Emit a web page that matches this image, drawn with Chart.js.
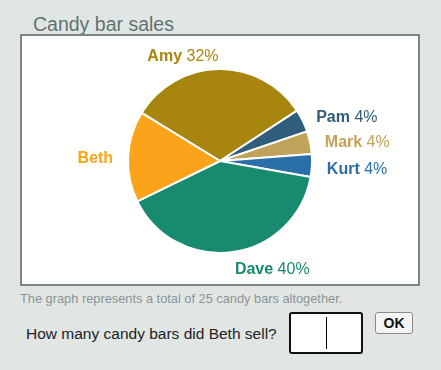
<!DOCTYPE html>
<html lang="en">
<head>
    <meta charset="UTF-8">
    <title>Candy bar sales</title>
    <script src="https://cdn.jsdelivr.net/npm/chart.js"></script>
    <style>
        body {
            margin: 0;
            width: 441px;
            height: 370px;
            background-color: #e1e6e4;
            font-family: 'Liberation Sans', Arial, sans-serif;
            position: relative;
            overflow: hidden;
        }

        #title {
            position: absolute;
            left: 33px;
            top: 13px;
            font-size: 19.5px;
            color: #5f7272;
        }

        /* panel round the pie */
        #panel {
            position: absolute;
            left: 20px;
            top: 34px;
            width: 396px;
            height: 248px;
            background-color: #fffffd;
            border: 2px solid #7a8585;
        }

        #note {
            position: absolute;
            left: 20px;
            top: 291px;
            font-size: 12.8px;
            color: #8a9595;
        }

        #question {
            position: absolute;
            left: 26px;
            top: 325px;
            font-size: 15.5px;
            color: #222;
        }

        #answer {
            position: absolute;
            left: 289px;
            top: 312px;
            width: 70px;
            height: 38px;
            background: #fff;
            border: 2px solid #111;
            border-radius: 3px;
        }

        #answer .cursor {
            position: absolute;
            left: 35px;
            top: 3px;
            width: 1px;
            height: 32px;
            background: #000;
        }

        #ok {
            position: absolute;
            left: 375px;
            top: 312px;
            width: 36px;
            height: 20px;
            border: 1px solid #8a8a8a;
            border-radius: 3px;
            background: #f4f4f4;
            font-size: 14px;
            font-weight: bold;
            text-align: center;
            line-height: 20px;
            color: #111;
        }
    </style>
</head>
<body>

<div id="title">Candy bar sales</div>
<div id="panel">
    <canvas id="candyChart" width="396" height="248"></canvas>
</div>
<div id="note">The graph represents a total of 25 candy bars altogether.</div>
<div id="question">How many candy bars did Beth sell?</div>
<div id="answer"><div class="cursor"></div></div>
<div id="ok">OK</div>

<script>
    // data, clockwise starting from Amy
    const names = ['Amy', 'Pam', 'Mark', 'Kurt', 'Dave', 'Beth'];
    const bars = [8, 1, 1, 1, 10, 4];
    const percentLabels = ['32%', '4%', '4%', '4%', '40%', ''];
    const sliceColors = ['#a7850f', '#2f5d7c', '#c0a25a', '#2b6faa', '#178a70', '#fba41b'];

    // draw name (bold) + percent next to every slice
    const sliceLabels = {
        id: 'sliceLabels',
        afterDatasetsDraw(chart) {
            const ctx = chart.ctx;
            const arcs = chart.getDatasetMeta(0).data;
            ctx.save();
            ctx.textBaseline = 'middle';
            arcs.forEach((arc, i) => {
                const mid = (arc.startAngle + arc.endAngle) / 2;
                const r = arc.outerRadius + 15;
                const x = arc.x + Math.cos(mid) * r;
                const y = arc.y + Math.sin(mid) * r + 3;
                const boldFont = 'bold 16px "Liberation Sans", Arial, sans-serif';
                const normalFont = '16px "Liberation Sans", Arial, sans-serif';
                const pct = percentLabels[i] ? ' ' + percentLabels[i] : '';
                ctx.font = boldFont;
                const w1 = ctx.measureText(names[i]).width;
                ctx.font = normalFont;
                const w2 = ctx.measureText(pct).width;
                let startX = Math.cos(mid) >= 0 ? x : x - w1 - w2;
                ctx.textAlign = 'left';
                ctx.fillStyle = sliceColors[i];
                ctx.font = boldFont;
                ctx.fillText(names[i], startX, y);
                ctx.font = normalFont;
                ctx.fillText(pct, startX + w1, y);
            });
            ctx.restore();
        }
    };

    const ctx = document.getElementById('candyChart').getContext('2d');
    new Chart(ctx, {
        type: 'pie',
        data: {
            labels: names,
            datasets: [{
                data: bars,
                backgroundColor: sliceColors,
                borderColor: '#ffffff',
                borderWidth: 2
            }]
        },
        options: {
            responsive: false,
            animation: false,
            rotation: -58.4,
            layout: {
                padding: { left: 105, right: 105, top: 32, bottom: 30 }
            },
            plugins: {
                legend: { display: false },
                tooltip: { enabled: false }
            }
        },
        plugins: [sliceLabels]
    });
</script>
</body>
</html>
